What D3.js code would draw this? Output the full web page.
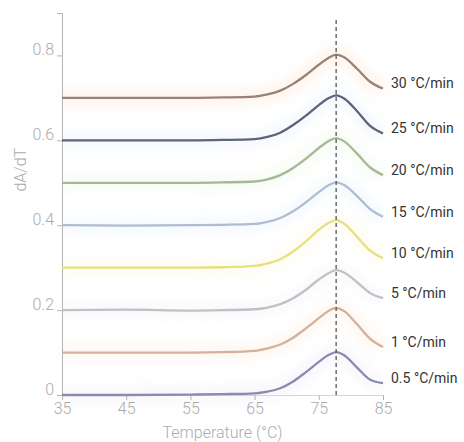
<!DOCTYPE html>
<html>
<head>
<meta charset="utf-8">
<script src="https://d3js.org/d3.v7.min.js"></script>
<style>
  body { margin: 0; background: #fff; font-family: Roboto, sans-serif; }
</style>
</head>
<body>
<div id="chart"></div>
<script>
// temperatures sampled along each curve (°C)
const temps = [35, 45, 55, 60, 65, 67, 69, 71, 73, 75, 76.5, 77.7, 79, 81, 83, 85];

// series labels, top to bottom
const rates = ["30 °C/min", "25 °C/min", "20 °C/min", "15 °C/min", "10 °C/min", "5 °C/min", "1 °C/min", "0.5 °C/min"];

// dA/dT values (curves are stacked)
const s30  = [0.700, 0.700, 0.700, 0.701, 0.703, 0.708, 0.717, 0.733, 0.754, 0.778, 0.794, 0.802, 0.795, 0.768, 0.738, 0.722];
const s25  = [0.600, 0.600, 0.600, 0.601, 0.603, 0.608, 0.618, 0.636, 0.658, 0.683, 0.699, 0.706, 0.698, 0.668, 0.634, 0.616];
const s20  = [0.500, 0.500, 0.500, 0.501, 0.503, 0.508, 0.518, 0.535, 0.557, 0.582, 0.598, 0.605, 0.597, 0.568, 0.536, 0.518];
const s15  = [0.400, 0.399, 0.400, 0.401, 0.403, 0.408, 0.417, 0.433, 0.454, 0.478, 0.494, 0.501, 0.494, 0.468, 0.438, 0.420];
const s10  = [0.300, 0.300, 0.300, 0.301, 0.304, 0.310, 0.320, 0.338, 0.362, 0.389, 0.405, 0.412, 0.403, 0.372, 0.340, 0.322];
const s5   = [0.200, 0.201, 0.199, 0.200, 0.202, 0.206, 0.214, 0.228, 0.248, 0.272, 0.287, 0.294, 0.288, 0.265, 0.240, 0.228];
const s1   = [0.100, 0.100, 0.100, 0.101, 0.104, 0.110, 0.119, 0.135, 0.157, 0.181, 0.198, 0.205, 0.197, 0.166, 0.132, 0.113];
const s05  = [0.000, 0.000, 0.001, 0.002, 0.004, 0.008, 0.016, 0.032, 0.054, 0.078, 0.094, 0.101, 0.093, 0.064, 0.036, 0.028];

const lineColors = ["#9a8376", "#5d6479", "#a4b994", "#aebdd0", "#e4e180", "#bec1ca", "#d5b09a", "#878cb0"];
const glowColors = ["#f7c89c", "#c9dcf0", "#d6ecc4", "#cfe0f2", "#faeab8", "#dfe3ec", "#f9d3b8", "#d6d6f2"];

const xTicks = [35, 45, 55, 65, 75, 85];
const yTicks = [0, 0.2, 0.4, 0.6, 0.8];
const peakTemp = 77.7;

const series = [s30, s25, s20, s15, s10, s5, s1, s05].map((vals, i) => ({
  label: rates[i],
  line: lineColors[i],
  glow: glowColors[i],
  points: temps.map((t, j) => ({ t: t, v: vals[j] }))
}));

const W = 464, H = 442;
const margin = { top: 13, right: 81, bottom: 47, left: 62 };
const width = W - margin.left - margin.right;
const height = H - margin.top - margin.bottom;

const svg = d3.select("#chart").append("svg")
  .attr("width", W).attr("height", H);

const defs = svg.append("defs");
defs.append("filter").attr("id", "blur")
  .attr("x", "-10%").attr("y", "-50%").attr("width", "120%").attr("height", "200%")
  .append("feGaussianBlur").attr("stdDeviation", 5);
defs.append("filter").attr("id", "soft")
  .attr("x", "-5%").attr("y", "-20%").attr("width", "110%").attr("height", "140%")
  .append("feGaussianBlur").attr("stdDeviation", 0.5);

const g = svg.append("g").attr("transform", `translate(${margin.left},${margin.top})`);

const x = d3.scaleLinear().domain([35, 85]).range([0, width]);
const y = d3.scaleLinear().domain([0, 0.9]).range([height, 0]);

const line = d3.line()
  .x(d => x(d.t))
  .y(d => y(d.v))
  .curve(d3.curveMonotoneX);

// soft halo behind each curve
g.append("g").selectAll("path")
  .data(series)
  .join("path")
  .attr("d", d => line(d.points))
  .attr("fill", "none")
  .attr("stroke", d => d.glow)
  .attr("stroke-width", 18)
  .attr("stroke-opacity", 0.16)
  .attr("filter", "url(#blur)");

// axes
const xAxis = g.append("g")
  .attr("transform", `translate(0,${height})`)
  .call(d3.axisBottom(x).tickValues(xTicks).tickSize(5).tickPadding(3));
const yAxis = g.append("g")
  .call(d3.axisLeft(y).tickValues(yTicks).tickFormat(d => d === 0 ? "0" : d3.format(".1f")(d)).tickSize(5).tickPadding(3));

xAxis.select(".domain").attr("stroke", "#d6d6d6");
yAxis.select(".domain").attr("stroke", "#b4b4b4");
[xAxis, yAxis].forEach(a => {
  a.selectAll(".tick line").attr("stroke", "#b4b4b4");
  a.selectAll(".tick text")
    .attr("fill", "#ababab")
    .style("font-family", "Roboto, sans-serif")
    .style("font-weight", 300)
    .style("font-size", "16px");
});
yAxis.selectAll(".tick text").attr("dy", "-0.05em");

// curves
g.append("g").selectAll("path")
  .data(series)
  .join("path")
  .attr("d", d => line(d.points))
  .attr("fill", "none")
  .attr("stroke", d => d.line)
  .attr("stroke-width", 2.3)
  .attr("stroke-linejoin", "round")
  .attr("filter", "url(#soft)");

// peak marker
g.append("line")
  .attr("x1", x(peakTemp)).attr("x2", x(peakTemp))
  .attr("y1", 7).attr("y2", height)
  .attr("stroke", "#4a4a4a")
  .attr("stroke-width", 1.2)
  .attr("stroke-dasharray", "4,3");

// series labels at the right end of each curve
g.append("g").selectAll("text")
  .data(series)
  .join("text")
  .attr("x", width + 8)
  .attr("y", d => y(d.points[d.points.length - 1].v) - 5)
  .attr("dy", "0.35em")
  .attr("fill", "#333")
  .style("font-family", "Roboto, sans-serif")
  .style("font-size", "14px")
  .text(d => d.label);

// axis titles
svg.append("text")
  .attr("x", margin.left + width / 2)
  .attr("y", 438)
  .attr("text-anchor", "middle")
  .attr("fill", "#ababab")
  .style("font-family", "Roboto, sans-serif")
  .style("font-weight", 300)
  .style("font-size", "16px")
  .text("Temperature (°C)");

svg.append("text")
  .attr("transform", `translate(26,${margin.top + y(0.5) - 13}) rotate(-90)`)
  .attr("text-anchor", "middle")
  .attr("fill", "#ababab")
  .style("font-family", "Roboto, sans-serif")
  .style("font-weight", 300)
  .style("font-size", "16px")
  .text("dA/dT");
</script>
</body>
</html>
